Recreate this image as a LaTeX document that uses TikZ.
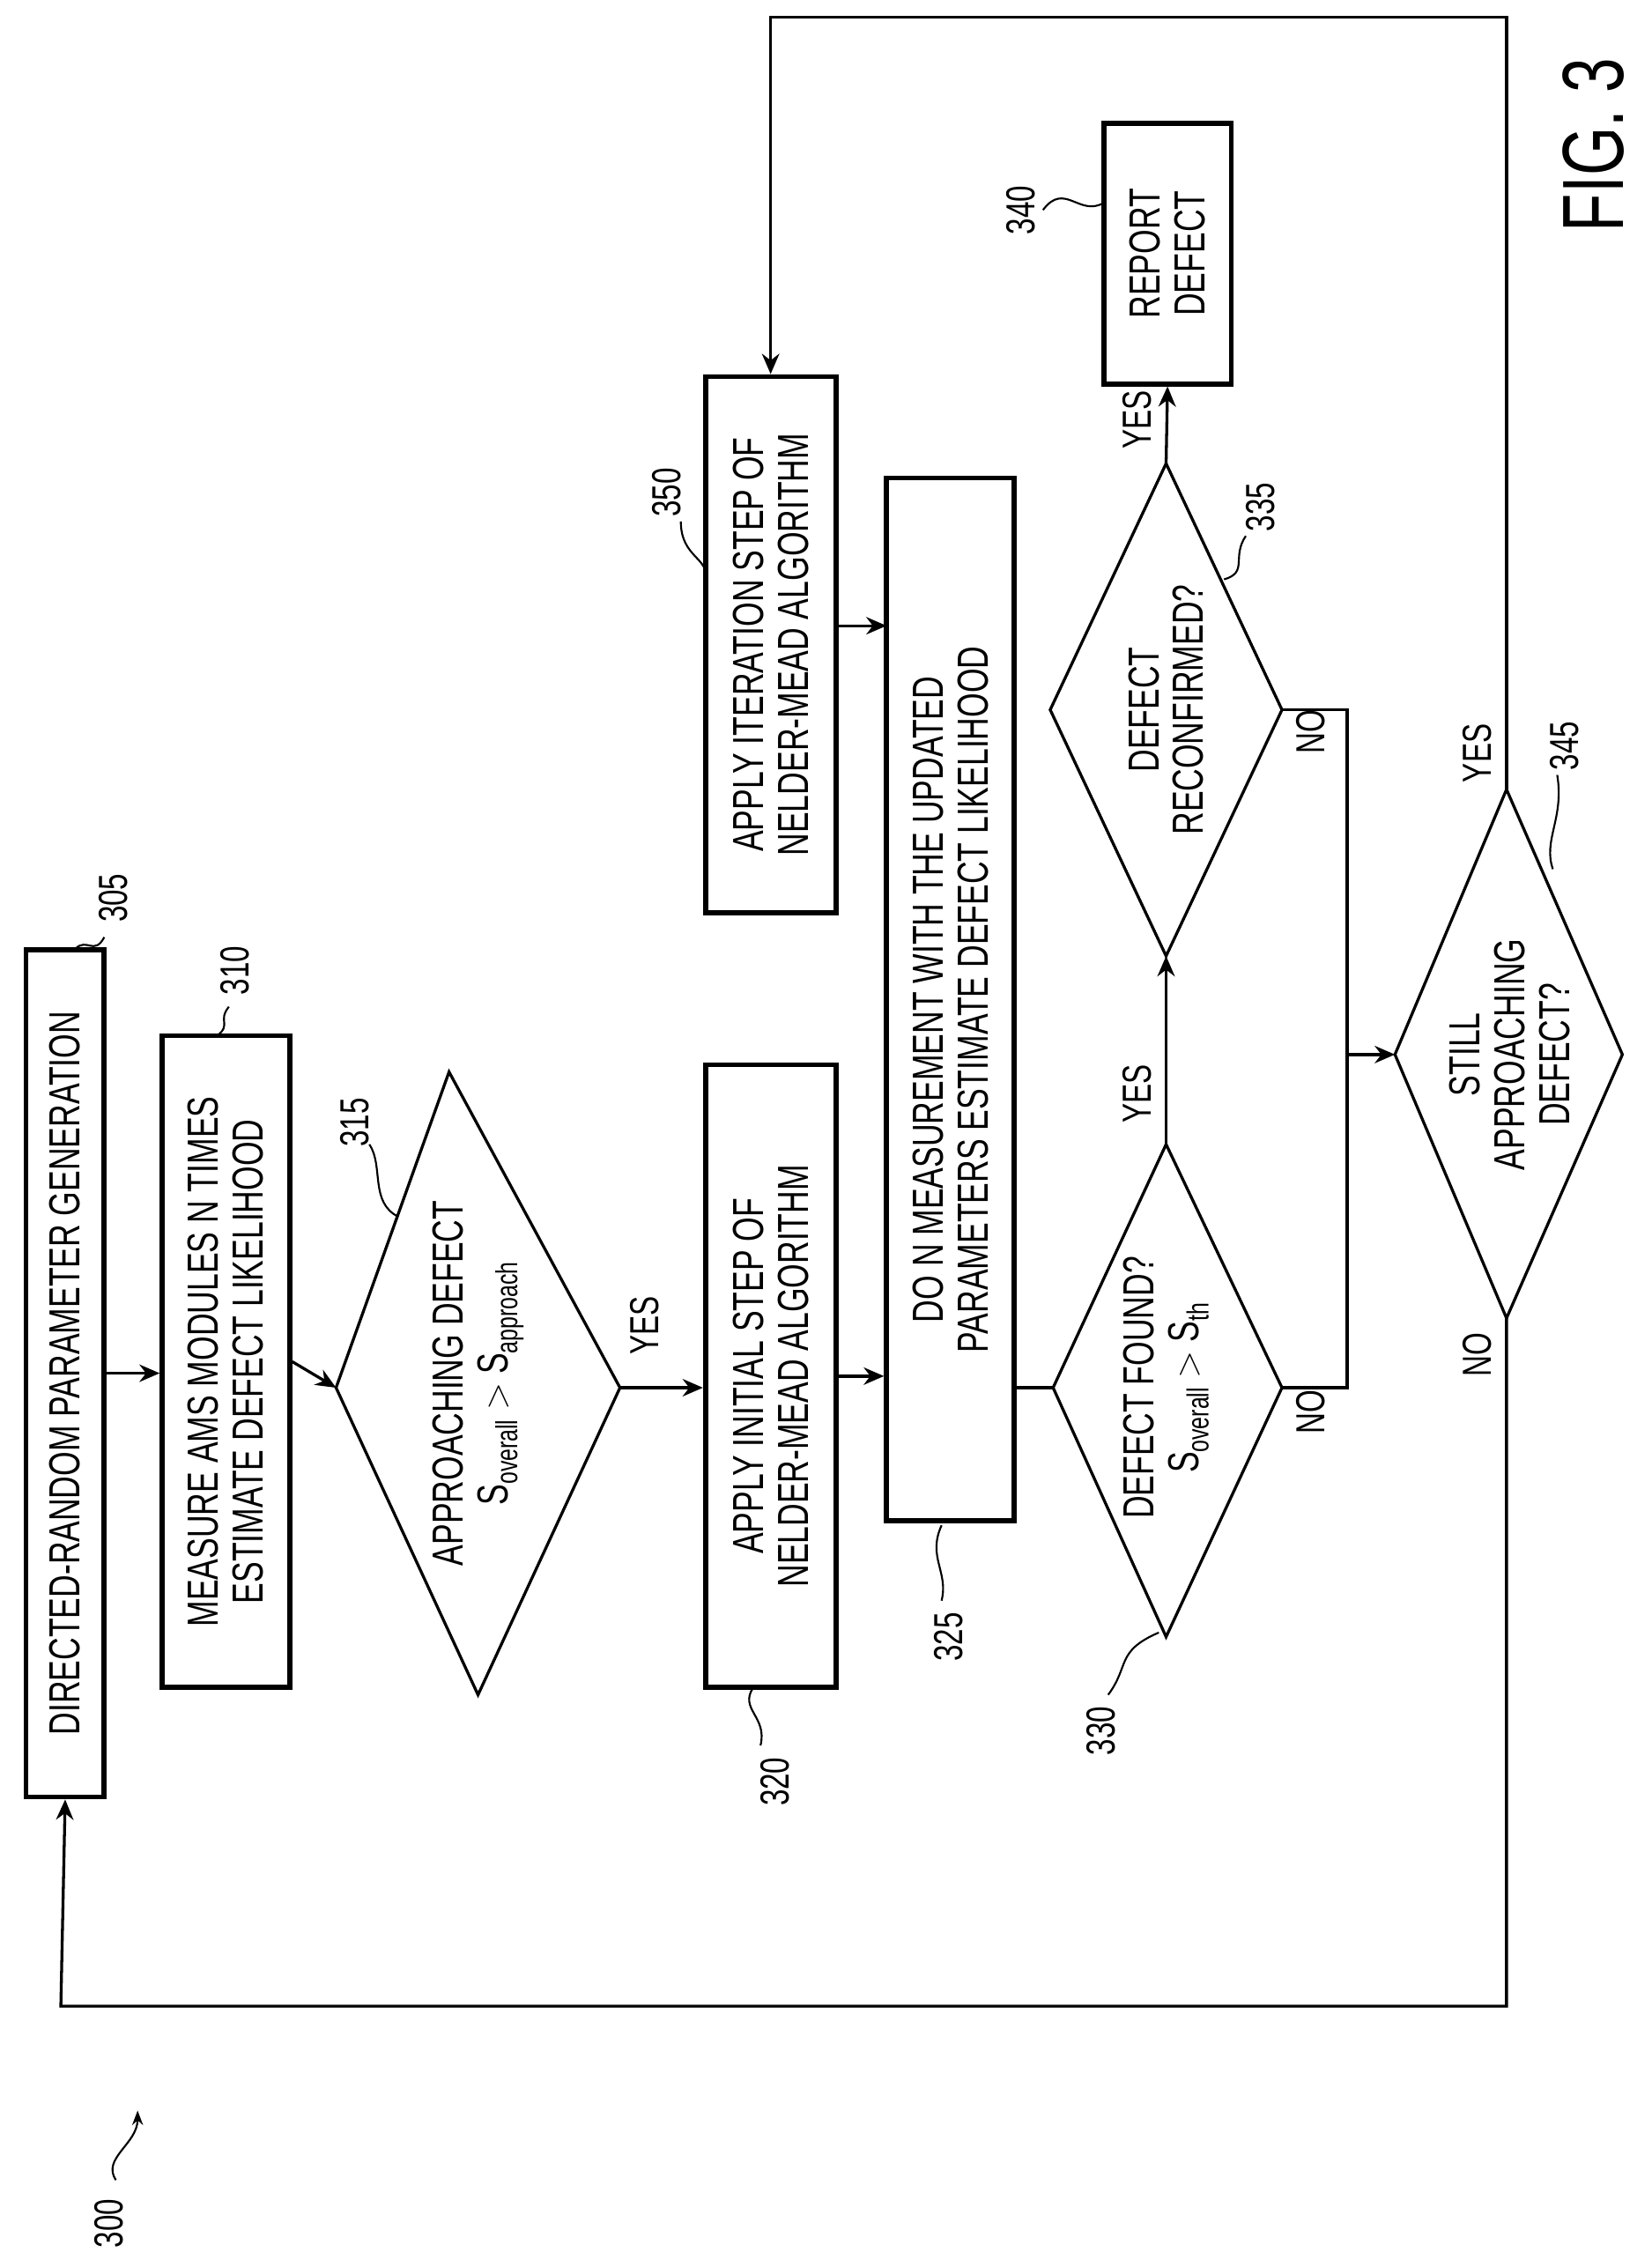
\documentclass[tikz,border=0pt]{standalone}
\usepackage{fontspec}
\setmainfont{Liberation Sans}[FakeStretch=0.72]
\usetikzlibrary{arrows.meta}
\begin{document}
\begin{tikzpicture}[x=1pt,y=1pt,
  txt/.style={font=\fontsize{30}{31}\selectfont,align=center,rotate=90},
  box/.style={draw,line width=3.5pt,txt,inner sep=0pt},
  dia/.style={draw,line width=2pt},
  ln/.style={line width=2pt},
  arr/.style={ln,-{Stealth[length=14pt,width=12pt]}},
  lab/.style={txt,font=\fontsize{28}{29}\selectfont},
  lead/.style={line width=1.3pt}]
\useasboundingbox (0,0) rectangle (1140,1565);
% boxes
\node[box,minimum width=585,minimum height=54] (b305) at (45,617) {DIRECTED-RANDOM PARAMETER GENERATION};
\node[box,minimum width=450,minimum height=88] (b310) at (156,625) {MEASURE AMS MODULES N TIMES\\ESTIMATE DEFECT LIKELIHOOD};
\node[box,minimum width=430,minimum height=90] (b320) at (532,615) {APPLY INITIAL STEP OF\\NELDER-MEAD ALGORITHM};
\node[box,minimum width=720,minimum height=88] (b325) at (656,875) {DO N MEASUREMENT WITH THE UPDATED\\PARAMETERS ESTIMATE DEFECT LIKELIHOOD};
\node[box,minimum width=370,minimum height=90] (b350) at (532,1120) {APPLY ITERATION STEP OF\\NELDER-MEAD ALGORITHM};
\node[box,minimum width=180,minimum height=88] (b340) at (806,1390) {REPORT\\DEFECT};
% diamonds
\coordinate (d315l) at (232,607); \coordinate (d315r) at (428,607);
\coordinate (d315t) at (310,825); \coordinate (d315b) at (330,395);
\draw[dia] (d315l)--(d315t)--(d315r)--(d315b)--cycle;
\node[txt] (t315) at (330,610) {APPROACHING DEFECT\\S\textsubscript{overall} {\fontsize{24}{24}\selectfont$>$} S\textsubscript{approach}};
\coordinate (d330l) at (727,607); \coordinate (d330r) at (885,607);
\coordinate (d330t) at (805,775); \coordinate (d330b) at (805,435);
\draw[dia] (d330l)--(d330t)--(d330r)--(d330b)--cycle;
\node[txt] (t330) at (805,607) {DEFECT FOUND?\\S\textsubscript{overall} {\fontsize{24}{24}\selectfont$>$} S\textsubscript{th}};
\coordinate (d335l) at (725,1075); \coordinate (d335r) at (885,1075);
\coordinate (d335t) at (805,1245); \coordinate (d335b) at (805,905);
\draw[dia] (d335l)--(d335t)--(d335r)--(d335b)--cycle;
\node[txt] (t335) at (805,1075) {DEFECT\\RECONFIRMED?};
\coordinate (d345l) at (963,837); \coordinate (d345r) at (1120,837);
\coordinate (d345t) at (1040,1020); \coordinate (d345b) at (1040,655);
\draw[dia] (d345l)--(d345t)--(d345r)--(d345b)--cycle;
\node[txt] (t345) at (1042,837) {STILL\\APPROACHING\\DEFECT?};
% flow
\draw[arr] (b305.south) -- (b310.north |- b305.south);
\draw[arr] (b310.south) -- (d315l);
\draw[arr] (d315r) -- (b320.north |- d315r);
\draw[arr] (b320.south) -- (b320.south -| b325.north);
\draw[ln] (b325.south |- d330l) -- (d330l);
\draw[arr] (d330t) -- (d335b);
\draw[arr] (d335t) -- (b340.west);
\coordinate (j1) at (930,607); \coordinate (j2) at (930,1075); \coordinate (j3) at (930,837);
\draw[ln] (d330r) -- (j1) -- (j3);
\draw[ln] (d335r) -- (j2) -- (j3);
\draw[arr] (j3) -- (d345l);
\coordinate (c1) at (1040,1553); \coordinate (c2) at (532,1553);
\draw[arr] (d345t) -- (c1) -- (c2) -- (b350.east);
\coordinate (c3) at (1040,180); \coordinate (c4) at (42,180);
\draw[arr] (d345b) -- (c3) -- (c4) -- (b305.west);
\coordinate (a350) at (577,1133);
\draw[arr] (a350) -- (612,1133);
% yes/no
\node[lab] (y1) at (445,650) {YES};
\node[lab] (y2) at (785,810) {YES};
\node[lab] (y3) at (785,1275) {YES};
\node[lab] (y4) at (1020,1045) {YES};
\node[lab] (n1) at (905,590) {NO};
\node[lab] (n2) at (905,1060) {NO};
\node[lab] (n3) at (1020,630) {NO};
% reference numbers
\node[lab] (r305) at (78,945) {305};
\draw[lead] (72,918) .. controls (65,905) and (60,918) .. (52,910);
\node[lab] (r310) at (162,895) {310};
\draw[lead] (158,870) .. controls (150,860) and (160,858) .. (150,850);
\node[lab] (r315) at (245,790) {315};
\draw[lead] (255,775) .. controls (265,760) and (255,735) .. (275,725);
\node[lab] (r320) at (535,335) {320};
\draw[lead] (525,360) .. controls (530,380) and (510,385) .. (520,400);
\node[lab] (r325) at (655,435) {325};
\draw[lead] (650,460) .. controls (655,480) and (640,490) .. (650,512);
\node[lab] (r330) at (760,370) {330};
\draw[lead] (765,395) .. controls (780,415) and (770,425) .. (800,438);
\node[lab] (r335) at (870,1215) {335};
\draw[lead] (860,1195) .. controls (850,1180) and (862,1170) .. (845,1165);
\node[lab] (r340) at (705,1420) {340};
\draw[lead] (720,1420) .. controls (735,1440) and (745,1415) .. (762,1425);
\node[lab] (r345) at (1080,1050) {345};
\draw[lead] (1075,1030) .. controls (1080,1000) and (1065,985) .. (1072,965);
\node[lab] (r350) at (460,1225) {350};
\draw[lead] (470,1205) .. controls (470,1180) and (490,1180) .. (487,1165);
\node[lab] (r300) at (75,30) {300};
\draw[lead,-{Stealth[length=10pt]}] (80,60) .. controls (70,75) and (95,85) .. (95,108);
\node[txt,font=\fontsize{60}{60}\selectfont] (fig) at (1100,1465) {FIG. 3};
\end{tikzpicture}
\end{document}
